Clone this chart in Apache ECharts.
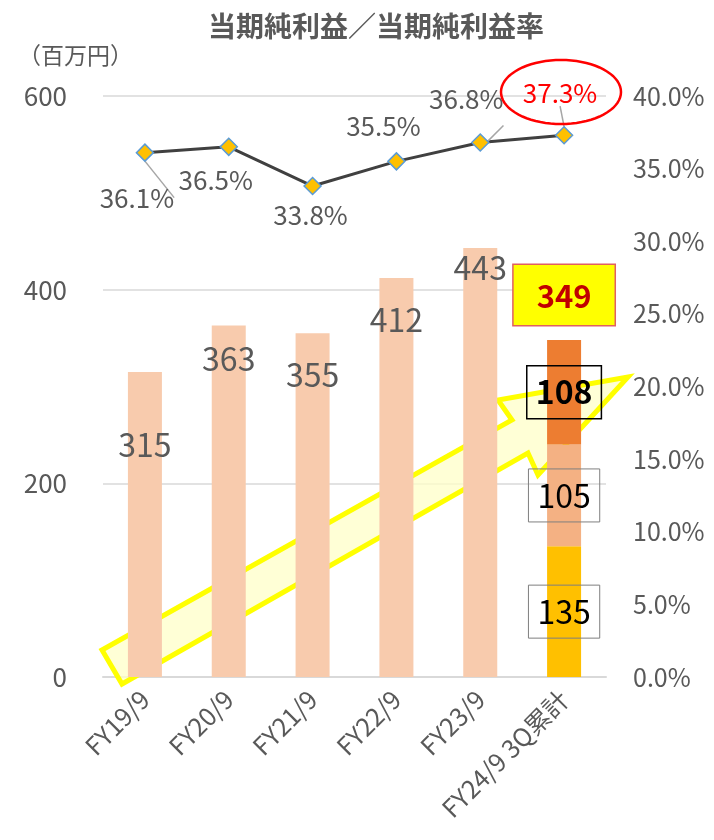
<!DOCTYPE html>
<html lang="ja">
<head>
<meta charset="UTF-8">
<script src="https://cdn.jsdelivr.net/npm/echarts@6/dist/echarts.min.js"></script>
<style>
  html, body { margin: 0; padding: 0; background: #fff; }
  #main { width: 714px; height: 840px; }
</style>
</head>
<body>
<div id="main"></div>
<script>
    // data
    var categories = ['FY19/9', 'FY20/9', 'FY21/9', 'FY22/9', 'FY23/9', 'FY24/9 3Q累計'];
    var profit = [315, 363, 355, 412, 443, '-'];
    var q1 = ['-', '-', '-', '-', '-', 135];
    var q2 = ['-', '-', '-', '-', '-', 105];
    var q3 = ['-', '-', '-', '-', '-', 108];
    var reportedTotal = 349;   // as printed (quarters are rounded)
    var margin = [36.1, 36.5, 33.8, 35.5, 36.8, 37.3];

    // label placement (px), not data
    var barLabelDy = [73, 33, 42, 42, 20];
    var lineLabelOffset = [[-8, 45], [-13, 33], [-2, 29], [-13, -35], [-14, -43], [-4, -42]];
    var lineLeader = [true, false, false, false, true, true];

    var FONT = '"Noto Sans CJK JP", "Noto Sans", sans-serif';
    var GRAY = '#595959';

    var last = categories.length - 1;
    var totalSeries = categories.map(function (c, i) { return i === last ? 0 : '-'; });

    var profitData = profit.map(function (v, i) {
        if (v === '-') return v;
        return {
            value: v,
            label: {position: ['50%', barLabelDy[i]]}
        };
    });

    var marginData = margin.map(function (v, i) {
        var item = {
            value: v,
            label: {offset: lineLabelOffset[i]},
            labelLine: {show: lineLeader[i], lineStyle: {color: '#a6a6a6', width: 1.5}}
        };
        if (i === last) item.label.color = '#ff0000';
        return item;
    });

    // red ellipse round the latest ratio
    var ell = [];
    for (var a = 0; a < 72; a++) {
        var t = a / 72 * Math.PI * 2;
        ell.push([561 + 60 * Math.cos(t), 92 + 32 * Math.sin(t)]);
    }

    var boxLabel = function (bold, border) {
        return {
            show: true,
            position: 'inside',
            color: '#000',
            fontSize: 32,
            fontFamily: FONT,
            fontWeight: bold ? 'bold' : 'normal',
            borderColor: border,
            borderWidth: bold ? 1.5 : 1,
            padding: [11, 9, 10, 9]
        };
    };

    var myChart = echarts.init(document.getElementById('main'));
    myChart.setOption({
        backgroundColor: '#ffffff',
        animation: false,
        title: {
            text: '当期純利益／当期純利益率',
            left: 371,
            top: 7,
            textAlign: 'center',
            textStyle: {color: GRAY, fontSize: 28, fontWeight: 'bold', fontFamily: FONT}
        },
        grid: {left: 103, right: 108, top: 96, bottom: 163},
        xAxis: {
            type: 'category',
            data: categories,
            axisLine: {lineStyle: {color: '#d9d9d9', width: 2}},
            axisTick: {show: false},
            axisLabel: {
                rotate: 45,
                margin: 18,
                color: GRAY,
                fontSize: 25,
                fontFamily: FONT
            }
        },
        yAxis: [
            {
                type: 'value',
                min: 0,
                max: 600,
                interval: 200,
                axisLine: {show: false},
                axisTick: {show: false},
                splitLine: {lineStyle: {color: '#d9d9d9', width: 1.5}},
                axisLabel: {color: GRAY, fontSize: 26, fontFamily: FONT, margin: 36}
            },
            {
                type: 'value',
                min: 0,
                max: 40,
                interval: 5,
                axisLine: {show: false},
                axisTick: {show: false},
                splitLine: {show: false},
                axisLabel: {
                    color: GRAY, fontSize: 25, fontFamily: FONT, margin: 27,
                    formatter: function (v) { return v.toFixed(1) + '%'; }
                }
            }
        ],
        graphic: [
            {
                type: 'text',
                left: 18,
                top: 44,
                style: {text: '（百万円）', fill: GRAY, fontSize: 23, fontFamily: FONT},
                z: 10
            },
            {
                // big yellow arrow behind the bars
                type: 'polygon',
                z: 1,
                shape: {points: [[102, 650], [512, 420], [498, 400], [628, 377], [538, 475], [528, 453], [122, 684]]},
                style: {fill: 'rgba(255,255,200,0.75)', stroke: '#ffff00', lineWidth: 5}
            },
            {
                type: 'polygon',
                z: 50,
                shape: {points: ell},
                style: {fill: 'none', stroke: '#ff0000', lineWidth: 2.5}
            }
        ],
        series: [
            {
                name: 'profit',
                type: 'bar',
                stack: 'p',
                barWidth: 34,
                data: profitData,
                itemStyle: {color: '#f8cbad'},
                label: {
                    show: true,
                    align: 'center',
                    verticalAlign: 'middle',
                    color: GRAY,
                    fontSize: 32,
                    fontFamily: FONT
                },
                z: 2
            },
            {
                name: 'Q1',
                type: 'bar',
                stack: 'p',
                data: q1,
                itemStyle: {color: '#ffc000'},
                label: boxLabel(false, '#7f7f7f'),
                z: 2
            },
            {
                name: 'Q2',
                type: 'bar',
                stack: 'p',
                data: q2,
                itemStyle: {color: '#f4b183'},
                label: boxLabel(false, '#7f7f7f'),
                z: 2
            },
            {
                name: 'Q3',
                type: 'bar',
                stack: 'p',
                data: q3,
                itemStyle: {color: '#ed7d31'},
                label: boxLabel(true, '#000000'),
                z: 2
            },
            {
                name: 'total',
                type: 'bar',
                stack: 'p',
                data: totalSeries,
                itemStyle: {color: 'transparent'},
                label: {
                    show: true,
                    position: 'top',
                    distance: 15,
                    formatter: function () { return String(reportedTotal); },
                    color: '#c00000',
                    fontSize: 31,
                    fontWeight: 'bold',
                    fontFamily: FONT,
                    backgroundColor: '#ffff00',
                    borderColor: '#e06060',
                    borderWidth: 1.5,
                    padding: [16, 23, 13, 23]
                },
                z: 3
            },
            {
                name: 'margin',
                type: 'line',
                yAxisIndex: 1,
                data: marginData,
                symbol: 'diamond',
                symbolSize: 17,
                lineStyle: {color: '#404040', width: 3},
                itemStyle: {color: '#ffc000', borderColor: '#5b9bd5', borderWidth: 1.5},
                label: {
                    show: true,
                    position: 'inside',
                    color: GRAY,
                    fontSize: 26,
                    fontFamily: FONT,
                    formatter: function (p) { return p.value.toFixed(1) + '%'; }
                },
                z: 5
            }
        ]
    });
</script>
</body>
</html>
